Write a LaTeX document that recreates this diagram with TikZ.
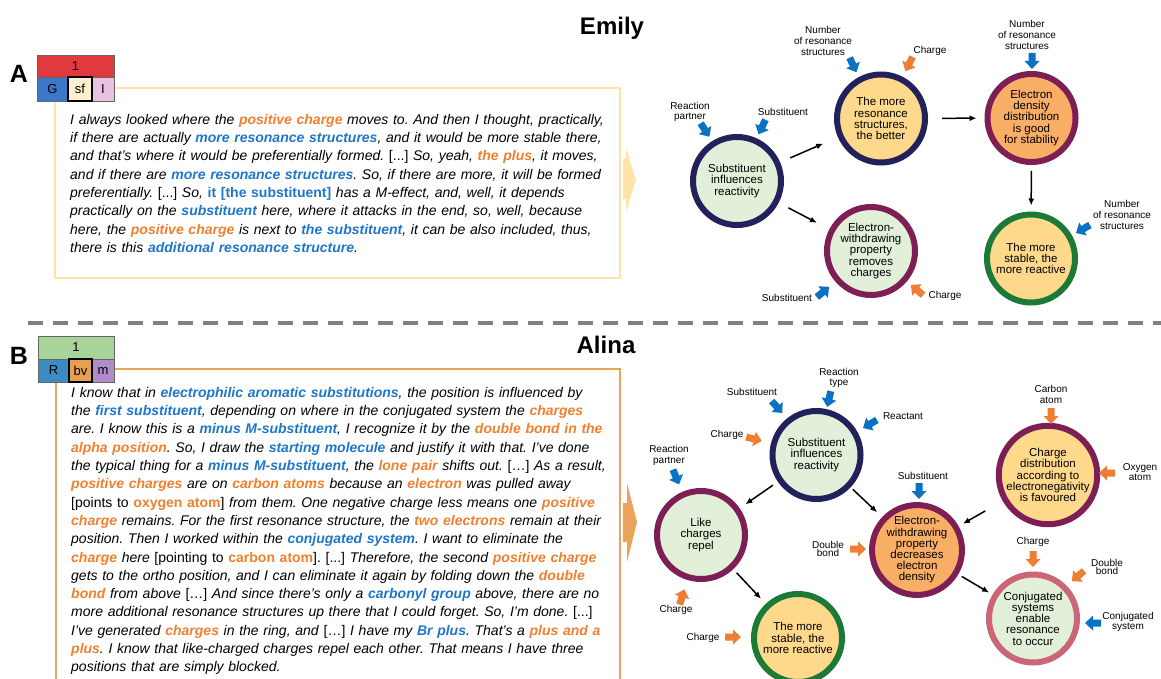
\documentclass[tikz,border=0pt]{standalone}
\usepackage{fontspec}
\setmainfont{Liberation Sans}
\usetikzlibrary{arrows.meta}
\frenchspacing

\definecolor{badgered}{HTML}{E2393F}
\definecolor{badgeblue}{HTML}{3C78C8}
\definecolor{badgecream}{HTML}{FDF0CF}
\definecolor{badgepink}{HTML}{E8C2E0}
\definecolor{badgegreen}{HTML}{A8D49A}
\definecolor{badgesteel}{HTML}{3B8CC3}
\definecolor{badgeorange}{HTML}{E6A052}
\definecolor{badgepurple}{HTML}{B08BC9}
\definecolor{boxyellow}{HTML}{FDE3A8}
\definecolor{boxorange}{HTML}{E9A35A}
\definecolor{hlorange}{HTML}{F07F2E}
\definecolor{hlblue}{HTML}{1F76C9}
\definecolor{ringnavy}{HTML}{23215B}
\definecolor{ringmaroon}{HTML}{7D1F55}
\definecolor{ringgreen}{HTML}{1C7A37}
\definecolor{ringrose}{HTML}{CB6677}
\definecolor{fillgreen}{HTML}{E2EFD9}
\definecolor{fillyellow}{HTML}{FFD98B}
\definecolor{fillorange}{HTML}{F9AE66}
\definecolor{cueblue}{HTML}{0B71C2}
\definecolor{cueorange}{HTML}{EE7E32}
\definecolor{sepgray}{HTML}{808080}

\newcommand{\hlo}[1]{\textbf{\color{hlorange}#1}}
\newcommand{\hlb}[1]{\textbf{\color{hlblue}#1}}
\newcommand{\jl}[1]{\makebox[\hsize][s]{#1}\\}

\tikzset{
  concept/.style={circle, line width=6pt, minimum size=88pt, inner sep=0pt, align=center, font=\fontsize{11.5}{11.2}\selectfont},
  cuelabel/.style={inner sep=0pt, align=center, font=\fontsize{10}{10.7}\selectfont},
  cell/.style={draw=black!60, line width=0.5pt, inner sep=0pt, font=\fontsize{13}{13}\selectfont},
  quote/.style={anchor=north west, inner sep=0pt, align=left, font=\itshape\fontsize{14}{18.3}\selectfont},
  link/.style={-{Latex[length=7pt,width=6pt]}, line width=1.5pt},
  pics/cue/.style={code={\fill[#1] (-8,-3.5) -- (0,-3.5) -- (0,-7.5) -- (8,0) -- (0,7.5) -- (0,3.5) -- (-8,3.5) -- cycle;}}
}

\begin{document}
\begin{tikzpicture}[x=1pt, y=-1pt]
\useasboundingbox (0,0) rectangle (1161,679);
\clip (0,0) rectangle (1161,679);

%panel A: box and arrow
\draw[boxyellow, line width=2pt] (55,88) rectangle (620,278);
\fill[boxyellow] (623,159) -- (626,159) -- (626,148) -- (636,180) -- (626,212) -- (626,199) -- (623,199) -- cycle;
%panel B: box and arrow
\draw[boxorange, line width=2pt] (56,700) -- (56,369) -- (620,369) -- (620,700);
\fill[boxorange] (623,503) -- (627,503) -- (627,483) -- (637,522) -- (627,562) -- (627,542) -- (623,542) -- cycle;

%separator
\draw[sepgray, line width=4pt, dash pattern=on 15pt off 10pt] (28,323) -- (1161,323);

%panel letters and badges
\node[font=\bfseries\fontsize{25}{25}\selectfont] (letA) at (19,74) {A};
\node[cell, fill=badgered, minimum width=77pt, minimum height=22pt] (numA) at (75.5,66) {1};
\node[cell, fill=badgeblue, minimum width=31pt, minimum height=24pt] (gA) at (52.5,89) {G};
\node[cell, fill=badgepink, minimum width=22pt, minimum height=24pt] (iA) at (103,89) {I};
\node[cell, draw=black, line width=2.5pt, fill=badgecream, minimum width=24pt, minimum height=24pt] (sfA) at (80,89) {sf};

\node[font=\bfseries\fontsize{25}{25}\selectfont] (letB) at (19,356) {B};
\node[cell, fill=badgegreen, minimum width=76pt, minimum height=23pt] (numB) at (76,347.5) {1};
\node[cell, fill=badgesteel, minimum width=31pt, minimum height=23pt] (rB) at (53.5,370.5) {R};
\node[cell, fill=badgepurple, minimum width=22pt, minimum height=23pt] (mB) at (103,370.5) {m};
\node[cell, draw=black, line width=2.5pt, fill=badgeorange, minimum width=23pt, minimum height=23pt] (bvB) at (80.5,370.5) {bv};

%quotes
\node[quote, text width=538pt] (quoteA) at (70,114) {%
\jl{I always looked where the \hlo{positive charge} moves to. And then I thought, practically,}
\jl{if there are actually \hlb{more resonance structures}, and it would be more stable there,}
\jl{and that's where it would be preferentially formed. \textup{[...]} So, yeah, \hlo{the plus}, it moves,}
\jl{and if there are \hlb{more resonance structures}. So, if there are more, it will be formed}
\jl{preferentially. \textup{[...]} So, \textup{\hlb{it [the substituent]}} has a M-effect, and, well, it depends}
\jl{practically on the \hlb{substituent} here, where it attacks in the end, so, well, because}
\jl{here, the \hlo{positive charge} is next to \hlb{the substituent}, it can be also included, thus,}
there is this \hlb{additional resonance structure}.};

\node[quote, text width=537pt] (quoteB) at (71,387) {%
\jl{I know that in \hlb{electrophilic aromatic substitutions}, the position is influenced by}
\jl{the \hlb{first substituent}, depending on where in the conjugated system the \hlo{charges}}
\jl{are. I know this is a \hlb{minus M-substituent}, I recognize it by the \hlo{double bond in the}}
\jl{\hlo{alpha position}. So, I draw the \hlb{starting molecule} and justify it with that. I've done}
\jl{the typical thing for a \hlb{minus M-substituent}, the \hlo{lone pair} shifts out. \textup{[…]} As a result,}
\jl{\hlo{positive charges} are on \hlo{carbon atoms} because an \hlo{electron} was pulled away}
\jl{\textup{[points to \hlo{oxygen atom}]} from them. One negative charge less means one \hlo{positive}}
\jl{\hlo{charge} remains. For the first resonance structure, the \hlo{two electrons} remain at their}
\jl{position. Then I worked within the \hlb{conjugated system}. I want to eliminate the}
\jl{\hlo{charge} here \textup{[pointing to \hlo{carbon atom}]. [...]} Therefore, the second \hlo{positive charge}}
\jl{gets to the ortho position, and I can eliminate it again by folding down the \hlo{double}}
\jl{\hlo{bond} from above \textup{[…]} And since there's only a \hlb{carbonyl group} above, there are no}
\jl{more additional resonance structures up there that I could forget. So, I'm done. \textup{[...]}}
\jl{I've generated \hlo{charges} in the ring, and \textup{[…]} I have my \hlb{Br plus}. That's a \hlo{plus and a}}
\jl{\hlo{plus}. I know that like-charged charges repel each other. That means I have three}
positions that are simply blocked.};

%titles
\node[font=\bfseries\fontsize{24}{24}\selectfont] (emily) at (612,28) {Emily};
\node[font=\bfseries\fontsize{24}{24}\selectfont] (alina) at (606,345) {Alina};

%Emily network
\node[concept, draw=ringnavy, fill=fillgreen] (subE) at (737,181) {Substituent\\influences\\reactivity};
\node[concept, draw=ringnavy, fill=fillyellow] (resE) at (881,118.5) {The more\\resonance\\structures,\\the better};
\node[concept, draw=ringmaroon, fill=fillgreen] (ewE) at (871,251) {Electron-\\withdrawing\\property\\removes\\charges};
\node[concept, draw=ringmaroon, fill=fillorange] (denE) at (1031.5,118) {Electron\\density\\distribution\\is good\\for stability};
\node[concept, draw=ringgreen, fill=fillyellow] (stbE) at (1031,258.5) {The more\\stable, the\\more reactive};

\draw[link, shorten <=11pt, shorten >=16pt] (subE) -- (resE);
\draw[link, shorten <=11pt, shorten >=14pt] (subE) -- (ewE);
\draw[link, shorten <=14pt, shorten >=8pt] (resE) -- (denE);
\draw[link, shorten <=6pt, shorten >=6pt] (denE) -- (stbE);

\node[cuelabel] (rpE) at (690,112) {Reaction\\partner};
\pic[rotate=-57] at (705,130) {cue=cueblue};
\node[cuelabel] (s1E) at (783,112) {Substituent};
\pic[rotate=-115] at (762,127) {cue=cueblue};
\node[cuelabel] (nr1E) at (823,41) {Number\\of resonance\\structures};
\pic[rotate=-65] at (853,65) {cue=cueblue};
\node[cuelabel] (ch1E) at (930,51) {Charge};
\pic[rotate=-117] at (909,64) {cue=cueorange};
\node[cuelabel] (s2E) at (787,298) {Substituent};
\pic[rotate=40] at (823,292) {cue=cueblue};
\node[cuelabel] (ch2E) at (945,296) {Charge};
\pic[rotate=140] at (917,290) {cue=cueorange};
\node[cuelabel] (nr2E) at (1027,35) {Number\\of resonance\\structures};
\pic[rotate=-90] at (1032,61) {cue=cueblue};
\node[cuelabel] (nr3E) at (1122,215) {Number\\of resonance\\structures};
\pic[rotate=-150] at (1083,229) {cue=cueblue};

%Alina network
\node[concept, draw=ringnavy, fill=fillgreen] (subA) at (816.5,455) {Substituent\\influences\\reactivity};
\node[concept, draw=ringmaroon, fill=fillgreen] (likeA) at (701,535) {Like\\charges\\repel};
\node[concept, draw=ringgreen, fill=fillyellow] (stbA) at (798,638) {The more\\stable, the\\more reactive};
\node[concept, draw=ringmaroon, fill=fillorange] (ewA) at (917,550) {Electron-\\withdrawing\\property\\decreases\\electron\\density};
\node[concept, draw=ringmaroon, fill=fillyellow] (cdA) at (1048,475) {Charge\\distribution\\according to\\electronegativity\\is favoured};
\node[concept, draw=ringrose, fill=fillgreen] (conjA) at (1033,618.5) {Conjugated\\systems\\enable\\resonance\\to occur};

\draw[link, shorten <=6pt, shorten >=7pt] (subA) -- (likeA);
\draw[link, shorten <=3pt, shorten >=7pt] (subA) -- (ewA);
\draw[link, shorten <=5pt, shorten >=7pt] (likeA) -- (stbA);
\draw[link, shorten <=20pt, shorten >=5pt] (cdA) -- (ewA);
\draw[link, shorten <=4pt, shorten >=4pt] (ewA) -- (conjA);

\node[cuelabel] (s1A) at (752,392) {Substituent};
\pic[rotate=-48] at (777,407) {cue=cueblue};
\node[cuelabel] (rtA) at (839,378) {Reaction\\type};
\pic[rotate=-103] at (829,399) {cue=cueblue};
\node[cuelabel] (reA) at (903,416) {Reactant};
\pic[rotate=-150] at (870,424) {cue=cueblue};
\node[cuelabel] (ch1A) at (727,435) {Charge};
\pic[rotate=-14] at (754,439) {cue=cueorange};
\node[cuelabel] (rpA) at (669,455.5) {Reaction\\partner};
\pic[rotate=-67] at (676,477) {cue=cueblue};
\node[cuelabel] (ch2A) at (676,610) {Charge};
\pic[rotate=73] at (682,597) {cue=cueorange};
\node[cuelabel] (ch3A) at (703,638) {Charge};
\pic[rotate=0] at (733,637) {cue=cueorange};
\node[cuelabel, font=\fontsize{10}{8}\selectfont] (db1A) at (828,548.5) {Double\\bond};
\pic[rotate=0] at (858,549) {cue=cueorange};
\node[cuelabel] (s2A) at (923,476) {Substituent};
\pic[rotate=-90] at (919,491) {cue=cueblue};
\node[cuelabel] (caA) at (1051,394.5) {Carbon\\atom};
\pic[rotate=-90] at (1051,416) {cue=cueorange};
\node[cuelabel, font=\fontsize{10}{8.5}\selectfont] (oaA) at (1140,472) {Oxygen\\atom};
\pic[rotate=180] at (1107,473) {cue=cueorange};
\node[cuelabel] (ch4A) at (1033,542) {Charge};
\pic[rotate=-90] at (1033,559) {cue=cueorange};
\node[cuelabel, font=\fontsize{10}{8}\selectfont] (db2A) at (1107,567) {Double\\bond};
\pic[rotate=-140] at (1078,576) {cue=cueorange};
\node[cuelabel] (csA) at (1128,622) {Conjugated\\system};
\pic[rotate=180] at (1093,623) {cue=cueblue};
\end{tikzpicture}
\end{document}
